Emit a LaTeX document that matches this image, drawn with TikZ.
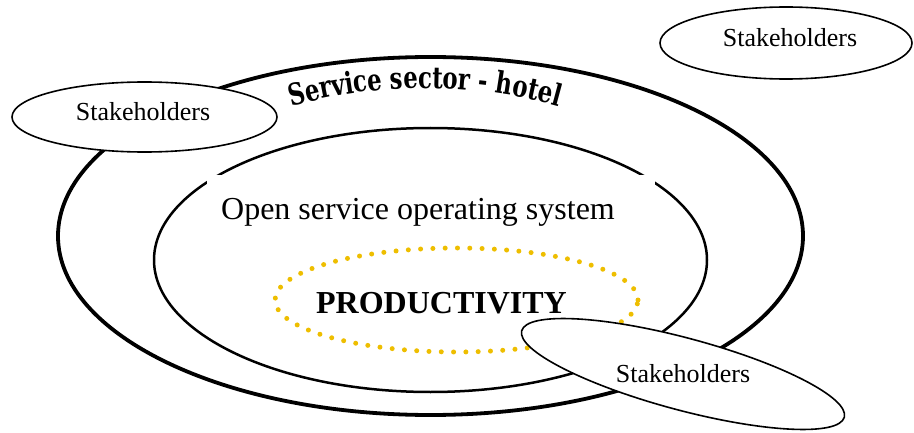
\documentclass[tikz,border=0pt]{standalone}
\usepackage{fontspec}
\setmainfont{Liberation Serif}
\newfontfamily\arcfont[FakeStretch=0.76]{DejaVu Serif Bold}
\newcommand\arcstyle{\arcfont\fontsize{30}{32}\selectfont}
\usetikzlibrary{shapes.geometric,decorations.text}
\definecolor{prodgold}{RGB}{238,190,0}
\tikzset{
  ring/.style={draw, ellipse, inner sep=0pt, line width=#1},
  stakebox/.style={draw, ellipse, fill=white, inner sep=0pt, line width=1.6pt},
  plaintext/.style={inner sep=0pt, anchor=base, font=\fontsize{26}{28}\selectfont},
}
\begin{document}
\begin{tikzpicture}[x=1pt,y=1pt]
\useasboundingbox (0,0) rectangle (914,432);
% sector and operating system rings
\node[ring=3.8pt, minimum width=745pt, minimum height=358pt] (sector) at (430.5,196) {};
\node[ring=2.5pt, minimum width=553pt, minimum height=264pt] (system) at (430.5,172) {};
\fill[white] (207,190) rectangle (655,257);
\node[plaintext, font=\fontsize{32}{34}\selectfont] (systemlabel) at (418,212) {Open service operating system};
% productivity core
\node[draw=prodgold, ellipse, inner sep=0pt, line width=5pt, dash pattern=on 0pt off 12.3pt,
      line cap=round, minimum width=363pt, minimum height=104pt] (prod) at (456.5,132) {};
\node[plaintext, font=\bfseries\fontsize{32}{34}\selectfont] (prodlabel) at (441.5,119) {PRODUCTIVITY};
% arched title
\path[decorate, decoration={text along path, text align=center,
      text={|\arcstyle|Service sector - hotel}}]
  (254,313.8) arc[start angle=110, end angle=70, radius=500];
% stakeholders
\node[stakebox, minimum width=252pt, minimum height=72pt] (shtop) at (786,389) {};
\node[plaintext] (shtoplabel) at (790,385) {Stakeholders};
\node[stakebox, minimum width=265pt, minimum height=70pt] (shleft) at (144.5,315) {};
\node[plaintext] (shleftlabel) at (143,311) {Stakeholders};
\node[stakebox, rotate=-15, minimum width=334pt, minimum height=72pt] (shbottom) at (683,58) {};
\node[plaintext] (shbottomlabel) at (683,50) {Stakeholders};
\end{tikzpicture}
\end{document}
